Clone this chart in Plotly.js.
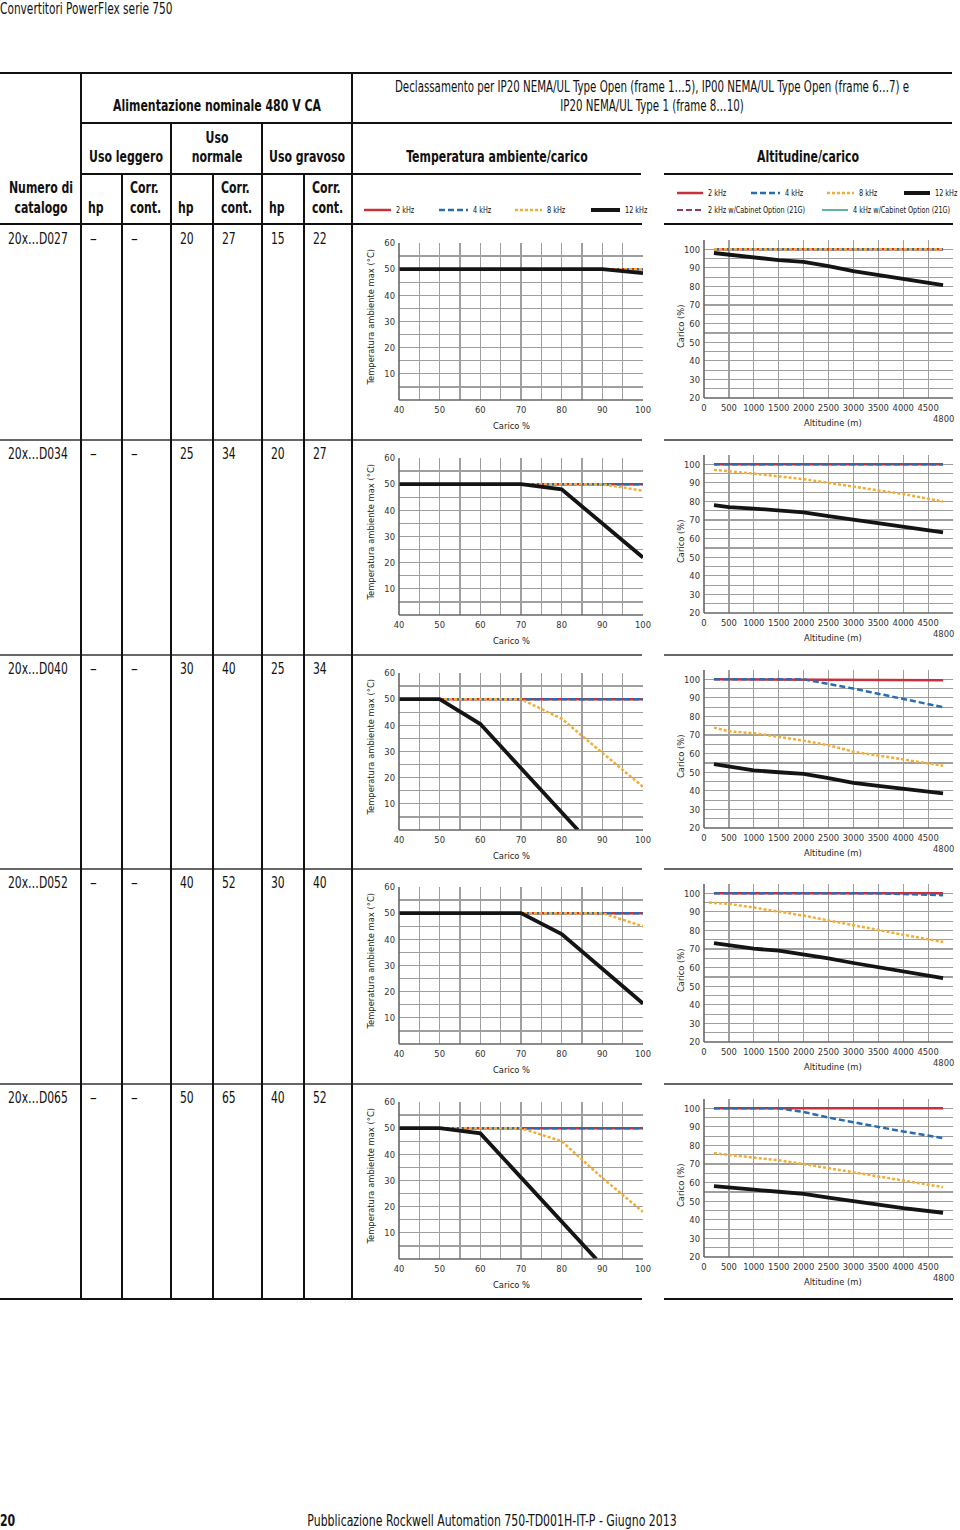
<!DOCTYPE html>
<html>
<head>
<meta charset="utf-8">
<script src="https://cdn.plot.ly/plotly-3.0.1.min.js"></script>
<style>
  body { margin: 0; background: #fff; }
  #page { position: relative; width: 960px; height: 1530px; overflow: hidden; background: #fff;
          font-family: "Liberation Sans Narrow", "DejaVu Sans Condensed", sans-serif; color: #111; }
  .t { position: absolute; white-space: nowrap; line-height: 1; }
  .ln { position: absolute; }
  .chart { position: absolute; width: 300px; height: 210px; }
</style>
</head>
<body>
<div id="page"></div>
<script>
const FONT = '"Liberation Sans Narrow", "DejaVu Sans Condensed", sans-serif';

// Colors for the switching frequencies
const RED = '#c8303d';
const BLUE = '#2a6cb0';
const ORANGE = '#f2ad35';
const BLACK = '#141414';
const PURPLE = '#8c3a70';
const TEAL = '#2a9a88';

// Table data
const catalogNumbers = ['20x…D027', '20x…D034', '20x…D040', '20x…D052', '20x…D065'];
const lightHp = ['–', '–', '–', '–', '–'];
const lightCurr = ['–', '–', '–', '–', '–'];
const normalHp = [20, 25, 30, 40, 50];
const normalCurr = [27, 34, 40, 52, 65];
const heavyHp = [15, 20, 25, 30, 40];
const heavyCurr = [22, 27, 34, 40, 52];

// Temperatura ambiente/carico (x = Carico %, y = Temperatura ambiente max °C)
const temp2kX = [[40, 100], [40, 100], [40, 100], [40, 100], [40, 100]];
const temp2kY = [[50, 50], [50, 50], [50, 50], [50, 50], [50, 50]];
const temp4kX = [[40, 100], [40, 100], [40, 100], [40, 100], [40, 100]];
const temp4kY = [[50, 50], [50, 50], [50, 50], [50, 50], [50, 50]];
const temp8kX = [[40, 100], [40, 90, 100], [40, 70, 80, 90, 100], [40, 90, 100], [40, 70, 80, 90, 100]];
const temp8kY = [[50, 50], [50, 50, 47.5], [50, 50, 42.5, 29.5, 16.5], [50, 50, 45], [50, 50, 45, 31, 18]];
const temp12kX = [[40, 90, 100], [40, 70, 80, 100], [40, 50, 60, 84], [40, 70, 80, 100], [40, 50, 60, 88.5]];
const temp12kY = [[50, 50, 48.5], [50, 50, 48, 22], [50, 50, 40.5, 0], [50, 50, 42, 15.5], [50, 50, 48, 0]];

// Altitudine/carico (x = Altitudine m, y = Carico %)
const alt2kX = [[200, 4800], [200, 4800], [200, 4800], [200, 4800], [200, 4800]];
const alt2kY = [[100, 100], [100, 100], [100, 99.5], [100, 100], [100, 100]];
const alt4kX = [[200, 4800], [200, 4800], [200, 2000, 3000, 4000, 4800], [200, 3500, 4800],
                [200, 1500, 2000, 2500, 3000, 3500, 4000, 4800]];
const alt4kY = [[100, 100], [100, 100], [100, 100, 95, 89.5, 85], [100, 100, 99],
                [100, 100, 98, 95, 92.5, 90, 87.5, 84]];
const alt8kX = [[200, 4800], [200, 1000, 2000, 3000, 4000, 4800],
                [200, 500, 1000, 1500, 2000, 2500, 3000, 3500, 4000, 4800],
                [100, 500, 1000, 1500, 2000, 2500, 3000, 3500, 4000, 4800],
                [200, 500, 1000, 1500, 2000, 2500, 3000, 3500, 4000, 4800]];
const alt8kY = [[100, 100], [97, 95, 92, 88, 84, 80],
                [74, 72, 71, 69, 67, 64.5, 61, 59, 57, 53.5],
                [95, 94.3, 92.3, 90.2, 88, 85.4, 82.7, 80.4, 77.7, 73.8],
                [75.8, 75, 73.5, 72, 70, 67.8, 65.3, 63.3, 60.8, 57.6]];
const alt12kX = [200, 500, 1000, 1500, 2000, 2500, 3000, 3500, 4000, 4800];
const alt12kY = [[98, 97.1, 96, 94.2, 93.2, 91, 88.2, 86, 83.8, 80.7],
                 [78, 77, 76.2, 75.2, 74.1, 72.1, 70.2, 68.2, 66.2, 63.4],
                 [54.3, 53, 51, 50, 49.1, 46.8, 44.3, 42.7, 41, 38.6],
                 [73.2, 72, 70.2, 69.1, 67.3, 65, 62.5, 60.2, 57.9, 54.3],
                 [58.1, 57.2, 56.2, 55.1, 54, 51.9, 49.9, 47.9, 46.3, 43.8]];

// Axis ticks
const tempXTicks = [40, 45, 50, 55, 60, 65, 70, 75, 80, 85, 90, 95, 100];
const tempYTicks = [0, 5, 10, 15, 20, 25, 30, 35, 40, 45, 50, 55, 60];
const altXTicks = [0, 500, 1000, 1500, 2000, 2500, 3000, 3500, 4000, 4500, 5000];
const altYTicks = [20, 25, 30, 35, 40, 45, 50, 55, 60, 65, 70, 75, 80, 85, 90, 95, 100, 105];

const rowOffsets = [0, 215, 430, 644, 859];
const page = document.getElementById('page');

// --- helpers ---
// the source font is a condensed face: squeeze the fallback horizontally
function txt(x, y, s, o = {}) {
  const el = document.createElement('div');
  el.className = 't';
  el.textContent = s;
  el.style.left = x + 'px';
  el.style.top = y + 'px';
  el.style.fontSize = (o.size || 15) + 'px';
  if (o.bold) el.style.fontWeight = 'bold';
  const sx = o.sx || (o.bold ? 0.76 : 0.78);
  if (o.center) {
    el.style.transform = 'translate(-50%, -50%) scaleX(' + sx + ')';
  } else {
    el.style.transformOrigin = 'left center';
    el.style.transform = 'translate(0, -50%) scaleX(' + sx + ')';
  }
  page.appendChild(el);
}

function line(x1, y1, x2, y2, w, color = '#111') {
  const el = document.createElement('div');
  el.className = 'ln';
  el.style.background = color;
  if (y1 === y2) {
    el.style.left = x1 + 'px'; el.style.top = (y1 - w / 2) + 'px';
    el.style.width = (x2 - x1) + 'px'; el.style.height = w + 'px';
  } else {
    el.style.left = (x1 - w / 2) + 'px'; el.style.top = y1 + 'px';
    el.style.width = w + 'px'; el.style.height = (y2 - y1) + 'px';
  }
  page.appendChild(el);
}

function legendItem(x1, x2, y, color, dash, w, label) {
  const svg = document.createElementNS('http://www.w3.org/2000/svg', 'svg');
  svg.setAttribute('width', x2 - x1);
  svg.setAttribute('height', 8);
  svg.style.position = 'absolute';
  svg.style.left = x1 + 'px';
  svg.style.top = (y - 4) + 'px';
  const l = document.createElementNS('http://www.w3.org/2000/svg', 'line');
  l.setAttribute('x1', 0); l.setAttribute('x2', x2 - x1);
  l.setAttribute('y1', 4); l.setAttribute('y2', 4);
  l.setAttribute('stroke', color);
  l.setAttribute('stroke-width', w);
  if (dash) l.setAttribute('stroke-dasharray', dash);
  svg.appendChild(l);
  page.appendChild(svg);
  txt(x2 + 5, y, label, { size: 9.5, sx: 0.76 });
}

// --- header ---
txt(0, 9, 'Convertitori PowerFlex serie 750', { size: 15, sx: 0.785 });
txt(217, 106, 'Alimentazione nominale 480 V CA', { size: 16, bold: true, center: true });
txt(652, 87, 'Declassamento per IP20 NEMA/UL Type Open (frame 1…5), IP00 NEMA/UL Type Open (frame 6…7) e', { size: 15, center: true, sx: 0.76 });
txt(652, 106, 'IP20 NEMA/UL Type 1 (frame 8…10)', { size: 15, center: true, sx: 0.76 });
txt(126, 157, 'Uso leggero', { size: 16, bold: true, center: true });
txt(217, 138, 'Uso', { size: 16, bold: true, center: true });
txt(217, 157, 'normale', { size: 16, bold: true, center: true });
txt(307, 157, 'Uso gravoso', { size: 16, bold: true, center: true });
txt(497, 157, 'Temperatura ambiente/carico', { size: 16, bold: true, center: true });
txt(808, 157, 'Altitudine/carico', { size: 16, bold: true, center: true });
txt(41, 188, 'Numero di', { size: 16, bold: true, center: true });
txt(41, 208, 'catalogo', { size: 16, bold: true, center: true });
[81, 171, 262].forEach(x => txt(x + 7, 208, 'hp', { size: 16, bold: true }));
[122, 213, 304].forEach(x => {
  txt(x + 8, 188, 'Corr.', { size: 16, bold: true });
  txt(x + 8, 208, 'cont.', { size: 16, bold: true });
});

// legends
legendItem(364, 391, 210, RED, null, 2.5, '2 kHz');
legendItem(439, 468, 210, BLUE, '6,3', 2.5, '4 kHz');
legendItem(515, 542, 210, ORANGE, '3,2', 2.3, '8 kHz');
legendItem(591, 620, 210, BLACK, null, 4, '12 kHz');
legendItem(677, 703, 193, RED, null, 2.5, '2 kHz');
legendItem(751, 780, 193, BLUE, '6,3', 2.5, '4 kHz');
legendItem(827, 854, 193, ORANGE, '3,2', 2.3, '8 kHz');
legendItem(904, 930, 193, BLACK, null, 4, '12 kHz');
legendItem(677, 703, 210, PURPLE, '6,3', 2, '2 kHz w/Cabinet Option (21G)');
legendItem(822, 848, 210, TEAL, null, 1.5, '4 kHz w/Cabinet Option (21G)');

// --- table rules ---
line(0, 73, 952, 73, 2.5);
line(81, 123, 952, 123, 1.5);
line(81, 174, 641, 174, 1.5);
line(664, 174, 953, 174, 1.5);
line(0, 224, 642, 224, 2);
line(664, 224, 953, 224, 2);
rowOffsets.slice(1).forEach(o => {
  line(0, 225 + o, 642, 225 + o, 1.5, '#666');
  line(664, 225 + o, 953, 225 + o, 1.5, '#666');
});
line(0, 1299, 642, 1299, 2.5);
line(664, 1299, 953, 1299, 2.5);
[81, 352].forEach(x => line(x, 73, x, 1299, 1.5));
[171, 262].forEach(x => line(x, 123, x, 1299, 1.5));
[122, 213, 304].forEach(x => line(x, 174, x, 1299, 1.5));

// --- table rows ---
catalogNumbers.forEach((c, k) => {
  const y = 239 + rowOffsets[k];
  const o = { size: 15, sx: 0.8 };
  txt(8, y, c, o);
  txt(90, y, lightHp[k], { size: 15, sx: 1 });
  txt(131, y, lightCurr[k], { size: 15, sx: 1 });
  txt(180, y, String(normalHp[k]), o);
  txt(222, y, String(normalCurr[k]), o);
  txt(271, y, String(heavyHp[k]), o);
  txt(313, y, String(heavyCurr[k]), o);
});

// --- footer ---
txt(0, 1521, '20', { size: 16, bold: true });
txt(492, 1521, 'Pubblicazione Rockwell Automation 750-TD001H-IT-P - Giugno 2013', { size: 15, center: true, sx: 0.81 });

// --- charts ---
const GRID = '#9f9f9f';
const AXIS = '#666';
const tickFont = { family: FONT, size: 9.3, color: '#333' };
const titleFont = { family: FONT, size: 9.3, color: '#1a1a1a' };

function axisBase(ticks, labels, range) {
  return {
    range: range, tickmode: 'array', tickvals: ticks, ticktext: labels, tickangle: 0,
    showgrid: true, gridcolor: GRID, gridwidth: 1.2, zeroline: false,
    showline: false, ticks: '', ticklabelstandoff: 3, tickfont: tickFont, fixedrange: true
  };
}

function axisLines() {
  return [
    { type: 'line', xref: 'paper', yref: 'paper', x0: 0, x1: 0, y0: 0, y1: 1, line: { color: AXIS, width: 1.6 } },
    { type: 'line', xref: 'paper', yref: 'paper', x0: 0, x1: 1, y0: 0, y1: 0, line: { color: AXIS, width: 1.6 } }
  ];
}

function seriesTraces(x2, y2, x4, y4, x8, y8, x12, y12) {
  return [
    { x: x2, y: y2, mode: 'lines', line: { color: RED, width: 2.5 } },
    { x: x4, y: y4, mode: 'lines', line: { color: BLUE, width: 2.5, dash: '6px,3px' } },
    { x: x8, y: y8, mode: 'lines', line: { color: ORANGE, width: 2.5, dash: '3px,2px' } },
    { x: x12, y: y12, mode: 'lines', line: { color: BLACK, width: 3.8 } }
  ];
}

function addDiv(left, top) {
  const d = document.createElement('div');
  d.className = 'chart';
  d.style.left = left + 'px';
  d.style.top = top + 'px';
  page.appendChild(d);
  return d;
}

function note(x, y, xs, ys, text, angle, font, xref) {
  return { xref: xref || 'paper', yref: 'paper', x: x, y: y, xshift: xs, yshift: ys,
           xanchor: 'center', yanchor: 'middle', textangle: angle || 0,
           text: text, showarrow: false, font: font || titleFont };
}

function tempChart(k) {
  const el = addDiv(360, 225 + rowOffsets[k]);
  const data = seriesTraces(temp2kX[k], temp2kY[k], temp4kX[k], temp4kY[k],
                            temp8kX[k], temp8kY[k], temp12kX[k], temp12kY[k]);
  const layout = {
    width: 300, height: 210,
    margin: { l: 39, r: 17, t: 18, b: 35 },
    paper_bgcolor: 'rgba(0,0,0,0)', plot_bgcolor: '#fff',
    showlegend: false,
    xaxis: axisBase(tempXTicks, tempXTicks.map(v => v % 10 === 0 ? String(v) : ''), [40, 100]),
    yaxis: axisBase(tempYTicks, tempYTicks.map(v => v % 10 === 0 && v > 0 ? String(v) : ''), [0, 60]),
    shapes: axisLines(),
    annotations: [
      note(0, 0.5, -29, 4, 'Temperatura ambiente max (°C)', -90),
      note(0.463, 0, 0, -25, 'Carico %')
    ]
  };
  Plotly.newPlot(el, data, layout, { staticPlot: true, displayModeBar: false });
}

function altChart(k) {
  const el = addDiv(660, 225 + rowOffsets[k]);
  const data = seriesTraces(alt2kX[k], alt2kY[k], alt4kX[k], alt4kY[k],
                            alt8kX[k], alt8kY[k], alt12kX, alt12kY[k]);
  const layout = {
    width: 300, height: 210,
    margin: { l: 44, r: 7, t: 15, b: 37 },
    paper_bgcolor: 'rgba(0,0,0,0)', plot_bgcolor: '#fff',
    showlegend: false,
    xaxis: axisBase(altXTicks, altXTicks.map(v => v < 5000 ? String(v) : ''), [0, 5000]),
    yaxis: axisBase(altYTicks, altYTicks.map(v => v % 10 === 0 ? String(v) : ''), [20, 105]),
    shapes: axisLines(),
    annotations: [
      note(0, 0.5, -24, -7, 'Carico (%)', -90),
      note(0.519, 0, 0, -24, 'Altitudine (m)'),
      note(4800, 0, 0, -20, '4800', 0, tickFont, 'x')
    ]
  };
  Plotly.newPlot(el, data, layout, { staticPlot: true, displayModeBar: false });
}

for (let k = 0; k < 5; k++) {
  tempChart(k);
  altChart(k);
}
</script>
</body>
</html>
